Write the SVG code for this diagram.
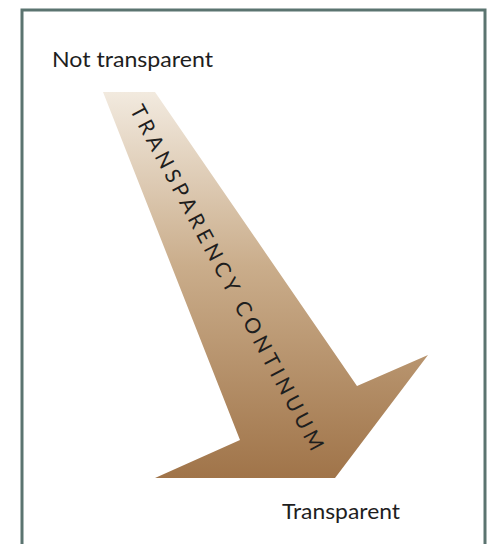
<svg xmlns="http://www.w3.org/2000/svg" width="495" height="544" viewBox="0 0 495 544">
  <defs>
    <linearGradient id="arrowFill" x1="0" y1="92" x2="0" y2="478" gradientUnits="userSpaceOnUse">
      <stop offset="0" stop-color="#f2eadf"/>
      <stop offset="0.45" stop-color="#caad8b"/>
      <stop offset="1" stop-color="#a07449"/>
    </linearGradient>
  </defs>
  <style>
    .label { font-family: "Lato", "Open Sans", "Liberation Sans", sans-serif; fill: #1e1e1e; }
    .frame { fill: #ffffff; stroke: #5b7470; stroke-width: 3; }
  </style>
  <rect x="0" y="0" width="495" height="544" fill="#ffffff"/>
  <!-- outer frame, open at the bottom edge -->
  <rect class="frame" x="22" y="10" width="463" height="560"/>

  <g id="not-transparent">
    <text class="label" x="52" y="67" font-size="21" textLength="161" lengthAdjust="spacingAndGlyphs">Not transparent</text>
  </g>

  <g id="transparent">
    <text class="label" x="282" y="519" font-size="21" textLength="118" lengthAdjust="spacingAndGlyphs">Transparent</text>
  </g>

  <g id="continuum-arrow">
    <polygon points="103,92 155,92 357,386 428,355 335,478 155,478 240,440" fill="url(#arrowFill)"/>
    <text class="label" transform="translate(129.5,109.7) rotate(62)" font-size="21" textLength="388" lengthAdjust="spacing">TRANSPARENCY CONTINUUM</text>
  </g>
</svg>
